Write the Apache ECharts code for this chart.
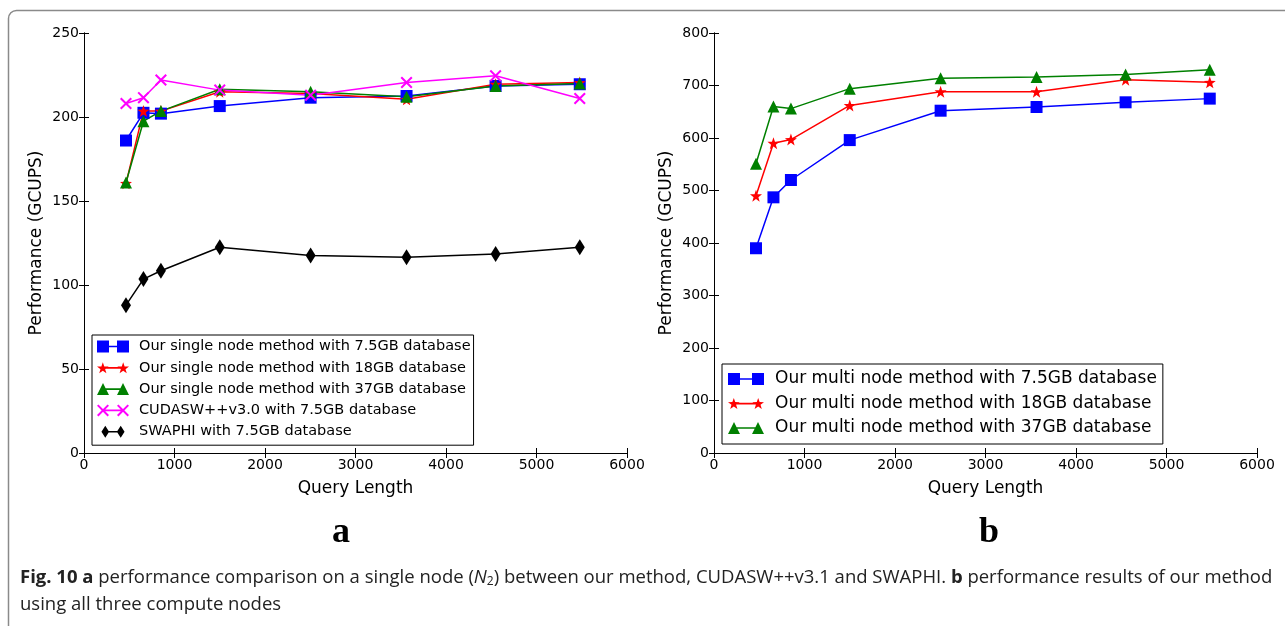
<!DOCTYPE html>
<html lang="en">

<head>
  <meta charset="utf-8">
  <script src="https://cdn.jsdelivr.net/npm/echarts@6/dist/echarts.min.js"></script>
  <style>
    html, body { margin: 0; padding: 0; background: #fff; }
  </style>
</head>

<body>
  <div id="perfChart" style="width: 1285px;height:626px;"></div>

  <script type="text/javascript">

    // query lengths (x) shared by every series
    var queryLen = [464, 657, 850, 1500, 2504, 3564, 4548, 5478];

    // panel a: single node (GCUPS)
    var single75 = [186, 202.5, 202, 206.5, 211.5, 212.5, 218.5, 219.5];
    var single18 = [160.5, 203.5, 203.5, 215, 214, 210.5, 219.5, 220.5];
    var single37 = [161, 197.5, 203.5, 216.5, 215, 212, 218.5, 220];
    var cudasw = [208, 211.5, 222, 216, 213, 220.5, 224.5, 211];
    var swaphi = [88, 103.5, 108.5, 122.5, 117.5, 116.5, 118.5, 122.5];

    // panel b: multi node (GCUPS)
    var multi75 = [390, 487, 520, 596, 652, 659, 668, 675];
    var multi18 = [490, 590, 597, 662, 688, 688, 711, 706];
    var multi37 = [551, 660, 656, 694, 714, 716, 721, 730];

    var namesA = [
        'Our single node method with 7.5GB database',
        'Our single node method with 18GB database',
        'Our single node method with 37GB database',
        'CUDASW++v3.0 with 7.5GB database',
        'SWAPHI with 7.5GB database'
    ];
    var namesB = [
        'Our multi node method with 7.5GB database',
        'Our multi node method with 18GB database',
        'Our multi node method with 37GB database'
    ];

    function f(n) { return (+n).toFixed(2); }

    // marker outlines, used for both the plotted symbols and the legend icons
    var shapes = {
        square: function (cx, cy, s) {
            var h = s / 2;
            return 'M' + f(cx - h) + ',' + f(cy - h) + 'L' + f(cx + h) + ',' + f(cy - h) +
                'L' + f(cx + h) + ',' + f(cy + h) + 'L' + f(cx - h) + ',' + f(cy + h) + 'Z';
        },
        triangle: function (cx, cy, s) {
            var h = s / 2;
            return 'M' + f(cx) + ',' + f(cy - h) + 'L' + f(cx + h) + ',' + f(cy + h) +
                'L' + f(cx - h) + ',' + f(cy + h) + 'Z';
        },
        star: function (cx, cy, s) {
            var R = s / 2, r = R * 0.4, p = '';
            for (var k = 0; k < 10; k++) {
                var a = (-90 + k * 36) * Math.PI / 180;
                var rr = k % 2 ? r : R;
                p += (k ? 'L' : 'M') + f(cx + rr * Math.cos(a)) + ',' + f(cy + 0.5 + rr * Math.sin(a));
            }
            return p + 'Z';
        },
        cross: function (cx, cy, s) {
            var h = s / 2, t = s * 0.12;
            return 'M' + f(cx - h) + ',' + f(cy - h + t) + 'L' + f(cx - h + t) + ',' + f(cy - h) +
                'L' + f(cx + h) + ',' + f(cy + h - t) + 'L' + f(cx + h - t) + ',' + f(cy + h) + 'Z' +
                'M' + f(cx + h - t) + ',' + f(cy - h) + 'L' + f(cx + h) + ',' + f(cy - h + t) +
                'L' + f(cx - h + t) + ',' + f(cy + h) + 'L' + f(cx - h) + ',' + f(cy + h - t) + 'Z';
        },
        diamond: function (cx, cy, s) {
            var h = s / 2, w = s * 0.32;
            return 'M' + f(cx) + ',' + f(cy - h) + 'L' + f(cx + w) + ',' + f(cy) +
                'L' + f(cx) + ',' + f(cy + h) + 'L' + f(cx - w) + ',' + f(cy) + 'Z';
        }
    };

    function legendIcon(shape, w, h) {
        var s = h;
        var line = 'M' + f(s / 2) + ',' + f(h / 2 - 0.8) + 'L' + f(w - s / 2) + ',' + f(h / 2 - 0.8) +
            'L' + f(w - s / 2) + ',' + f(h / 2 + 0.8) + 'L' + f(s / 2) + ',' + f(h / 2 + 0.8) + 'Z';
        return 'path://' + shapes[shape](s / 2, h / 2, s) + line + shapes[shape](w - s / 2, h / 2, s);
    }

    function pts(vals) {
        return queryLen.map(function (x, i) { return [x, vals[i]]; });
    }

    function lineSeries(name, vals, color, shape, size, axis) {
        return {
            name: name,
            type: 'line',
            xAxisIndex: axis,
            yAxisIndex: axis,
            data: pts(vals),
            symbol: 'path://' + shapes[shape](0, 0, 10),
            symbolSize: size,
            showAllSymbol: true,
            lineStyle: { color: color, width: 1.5 },
            itemStyle: { color: color, opacity: 1 },
            emphasis: { disabled: true }
        };
    }

    var tickFont = {
        fontFamily: 'DejaVu Sans', fontSize: 14, color: '#000',
        formatter: function (v) { return String(v); }
    };

    function bottomAxis(idx) {
        return {
            gridIndex: idx, type: 'value', min: 0, max: 6000, interval: 1000,
            name: 'Query Length', nameLocation: 'middle', nameGap: 27,
            nameTextStyle: { fontFamily: 'DejaVu Sans', fontSize: 17, color: '#000' },
            axisLine: { show: true, lineStyle: { color: '#000', width: 1 } },
            axisTick: { show: true, inside: true, length: 5, lineStyle: { color: '#000' } },
            axisLabel: Object.assign({ margin: 5 }, tickFont),
            splitLine: { show: false }
        };
    }
    function topAxis(idx) {
        return {
            gridIndex: idx, type: 'value', position: 'top', min: 0, max: 6000, interval: 1000,
            axisLine: { show: true, lineStyle: { color: '#000', width: 1 } },
            axisTick: { show: true, inside: true, length: 5, lineStyle: { color: '#000' } },
            axisLabel: { show: false },
            splitLine: { show: false }
        };
    }
    function leftAxis(idx, max, step) {
        return {
            gridIndex: idx, type: 'value', min: 0, max: max, interval: step,
            name: 'Performance (GCUPS)', nameLocation: 'middle', nameGap: 39,
            nameTextStyle: { fontFamily: 'DejaVu Sans', fontSize: 17, color: '#000' },
            axisLine: { show: true, lineStyle: { color: '#000', width: 1 } },
            axisTick: { show: true, inside: true, length: 5, lineStyle: { color: '#000' } },
            axisLabel: Object.assign({ margin: 5 }, tickFont),
            splitLine: { show: false }
        };
    }
    function rightAxis(idx, max, step) {
        return {
            gridIndex: idx, type: 'value', position: 'right', min: 0, max: max, interval: step,
            axisLine: { show: true, lineStyle: { color: '#000', width: 1 } },
            axisTick: { show: true, inside: true, length: 5, lineStyle: { color: '#000' } },
            axisLabel: { show: false },
            splitLine: { show: false }
        };
    }

    var chart = echarts.init(document.getElementById('perfChart'));

    var option = {
        animation: false,
        backgroundColor: '#fff',
        grid: [
            { left: 84, top: 33, width: 543, height: 420 },
            { left: 714, top: 33, width: 543, height: 420 }
        ],
        xAxis: [bottomAxis(0), bottomAxis(1), topAxis(0), topAxis(1)],
        yAxis: [leftAxis(0, 250, 50), leftAxis(1, 800, 100), rightAxis(0, 250, 50), rightAxis(1, 800, 100)],
        legend: [
            {
                orient: 'vertical', left: 92, top: 335,
                itemWidth: 32, itemHeight: 12, itemGap: 4.3,
                padding: [3, 3, 5, 5],
                borderColor: '#000', borderWidth: 1, backgroundColor: '#fff',
                selectedMode: false,
                textStyle: { fontFamily: 'DejaVu Sans', fontSize: 14.5, color: '#000', lineHeight: 17, padding: [0, 0, 0, 5] },
                data: [
                    { name: namesA[0], icon: legendIcon('square', 32, 12) },
                    { name: namesA[1], icon: legendIcon('star', 32, 12) },
                    { name: namesA[2], icon: legendIcon('triangle', 32, 12) },
                    { name: namesA[3], icon: legendIcon('cross', 32, 12) },
                    { name: namesA[4], icon: legendIcon('diamond', 32, 14) }
                ]
            },
            {
                orient: 'vertical', left: 722, top: 364,
                itemWidth: 36, itemHeight: 12, itemGap: 4.5,
                padding: [5, 6, 6, 6],
                borderColor: '#000', borderWidth: 1, backgroundColor: '#fff',
                selectedMode: false,
                textStyle: { fontFamily: 'DejaVu Sans', fontSize: 17, color: '#000', lineHeight: 20, padding: [0, 0, 0, 6] },
                data: [
                    { name: namesB[0], icon: legendIcon('square', 36, 12) },
                    { name: namesB[1], icon: legendIcon('star', 36, 12) },
                    { name: namesB[2], icon: legendIcon('triangle', 36, 12) }
                ]
            }
        ],
        series: [
            lineSeries(namesA[0], single75, '#0000ff', 'square', 12, 0),
            lineSeries(namesA[1], single18, '#ff0000', 'star', 12, 0),
            lineSeries(namesA[2], single37, '#008000', 'triangle', 12, 0),
            lineSeries(namesA[3], cudasw, '#ff00ff', 'cross', 12, 0),
            lineSeries(namesA[4], swaphi, '#000000', 'diamond', [10, 16], 0),
            lineSeries(namesB[0], multi75, '#0000ff', 'square', 12, 1),
            lineSeries(namesB[1], multi18, '#ff0000', 'star', 12, 1),
            lineSeries(namesB[2], multi37, '#008000', 'triangle', 12, 1)
        ],
        graphic: [
            {
                type: 'rect', silent: true,
                shape: { x: 8.5, y: 10.5, width: 1400, height: 800, r: 8 },
                style: { fill: 'none', stroke: '#8a8a8a', lineWidth: 1.5 }
            },
            {
                type: 'text', x: 341, y: 533, silent: true,
                style: { text: 'a', font: 'bold 36px "Liberation Serif"', fill: '#000', align: 'center', verticalAlign: 'middle' }
            },
            {
                type: 'text', x: 989, y: 533, silent: true,
                style: { text: 'b', font: 'bold 36px "Liberation Serif"', fill: '#000', align: 'center', verticalAlign: 'middle' }
            },
            {
                type: 'text', x: 20, y: 578, silent: true,
                style: {
                    text: '{b|Fig. 10 a} performance comparison on a single node ({i|N}{s|2}) between our method, CUDASW++v3.1 and SWAPHI. {b|b} performance results of our method',
                    font: '18.5px "Open Sans"', fill: '#222', verticalAlign: 'middle',
                    rich: {
                        b: { font: 'bold 18.5px "Open Sans"', fill: '#222' },
                        i: { font: 'italic 18.5px "Open Sans"', fill: '#222' },
                        s: { font: '12px "Open Sans"', fill: '#222', verticalAlign: 'bottom', padding: [7, 0, 0, 0] }
                    }
                }
            },
            {
                type: 'text', x: 20, y: 605, silent: true,
                style: { text: 'using all three compute nodes', font: '18.5px "Open Sans"', fill: '#222', verticalAlign: 'middle' }
            }
        ]
    };

    chart.setOption(option);
  </script>
</body>

</html>
